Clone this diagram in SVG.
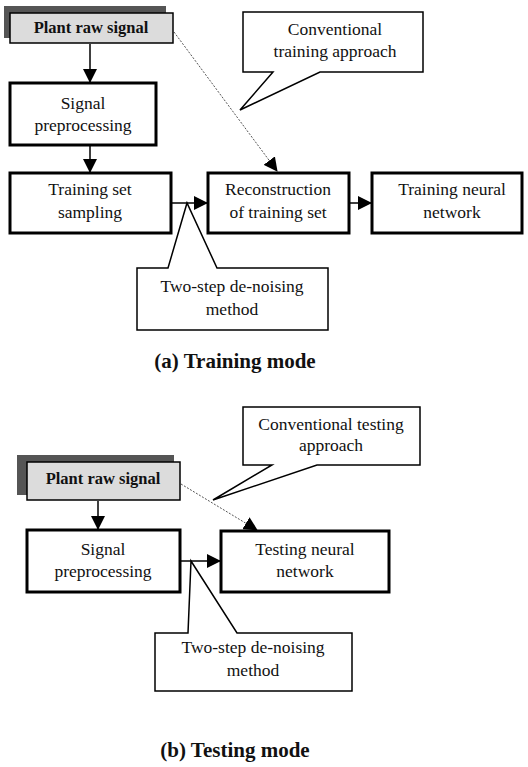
<svg xmlns="http://www.w3.org/2000/svg" width="528" height="767" viewBox="0 0 528 767">
<style>
text{font-family:"Liberation Serif","Times New Roman",serif;font-size:17.5px;fill:#111;text-anchor:middle}
.b{font-weight:bold;font-size:16.5px}
.cap{font-weight:bold;font-size:21px}
.box{fill:#fff;stroke:#000;stroke-width:3}
.call{fill:#fff;stroke:#000;stroke-width:1.5;stroke-linejoin:miter}
.shadow{fill:#555}
.src{fill:#dcdcdc;stroke:#000;stroke-width:1.5}
.c{stroke:#000;stroke-width:1.5;fill:none}
.d{stroke:#555;stroke-width:1;stroke-dasharray:2 1.5;fill:none}
</style>
<defs>
<marker id="ahl" markerWidth="14" markerHeight="14" refX="13" refY="7" orient="auto" markerUnits="userSpaceOnUse">
<path d="M0,0 L14,7 L0,14 Z" fill="#000"/>
</marker>
</defs>

<g id="connectors">
<line class="c" x1="90" y1="44" x2="90" y2="82" marker-end="url(#ahl)"/>
<line class="c" x1="90" y1="146" x2="90" y2="172" marker-end="url(#ahl)"/>
<line class="c" x1="172" y1="203" x2="207" y2="203" marker-end="url(#ahl)"/>
<line class="c" x1="350" y1="203" x2="371" y2="203" marker-end="url(#ahl)"/>
<line class="d" x1="174" y1="32" x2="277" y2="171" marker-end="url(#ahl)"/>
<line class="c" x1="98" y1="501" x2="98" y2="529" marker-end="url(#ahl)"/>
<line class="c" x1="181" y1="561" x2="220" y2="561" marker-end="url(#ahl)"/>
<line class="d" x1="181" y1="484" x2="257" y2="530" marker-end="url(#ahl)"/>
</g>

<g id="plant-raw-a">
<rect class="shadow" x="4" y="6" width="162" height="32"/>
<rect class="src" x="10" y="13" width="163" height="30"/>
<text class="b" x="91" y="33">Plant raw signal</text>
</g>
<g id="signal-preprocessing-a">
<rect class="box" x="10" y="83" width="146" height="62"/>
<text x="83" y="109">Signal</text>
<text x="83" y="131">preprocessing</text>
</g>
<g id="training-set-sampling">
<rect class="box" x="10" y="173" width="161" height="60"/>
<text x="90" y="195">Training set</text>
<text x="90" y="218">sampling</text>
</g>
<g id="reconstruction">
<rect class="box" x="208" y="173" width="141" height="60"/>
<text x="278" y="195">Reconstruction</text>
<text x="278" y="218">of training set</text>
</g>
<g id="training-nn">
<rect class="box" x="372" y="173" width="150" height="60"/>
<text x="452" y="195">Training neural</text>
<text x="452" y="218">network</text>
</g>
<g id="callout-conv-training">
<path class="call" d="M243,12 H423 V72 H320 L240,110 L273,72 H243 Z"/>
<text x="335" y="35">Conventional</text>
<text x="335" y="57">training approach</text>
</g>
<g id="callout-denoise-a">
<path class="call" d="M137,268 H168 L187,203 L217,268 H328 V330 H137 Z"/>
<text x="232" y="292">Two-step de-noising</text>
<text x="232" y="315">method</text>
</g>
<text class="cap" x="235" y="368">(a) Training mode</text>

<g id="plant-raw-b">
<rect class="shadow" x="17" y="455" width="157" height="40"/>
<rect class="src" x="27" y="462" width="153" height="38"/>
<text class="b" x="103" y="484">Plant raw signal</text>
</g>
<g id="signal-preprocessing-b">
<rect class="box" x="27" y="530" width="153" height="62"/>
<text x="103" y="555">Signal</text>
<text x="103" y="577">preprocessing</text>
</g>
<g id="testing-nn">
<rect class="box" x="221" y="531" width="168" height="61"/>
<text x="305" y="555">Testing neural</text>
<text x="305" y="577">network</text>
</g>
<g id="callout-conv-testing">
<path class="call" d="M243,407 H420 V465 H317 L213,500 L272,465 H243 Z"/>
<text x="331" y="430">Conventional testing</text>
<text x="331" y="451">approach</text>
</g>
<g id="callout-denoise-b">
<path class="call" d="M155,633 H188 L191,561 L237,633 H352 V691 H155 Z"/>
<text x="253" y="653">Two-step de-noising</text>
<text x="253" y="676">method</text>
</g>
<text class="cap" x="235" y="757">(b) Testing mode</text>
</svg>
